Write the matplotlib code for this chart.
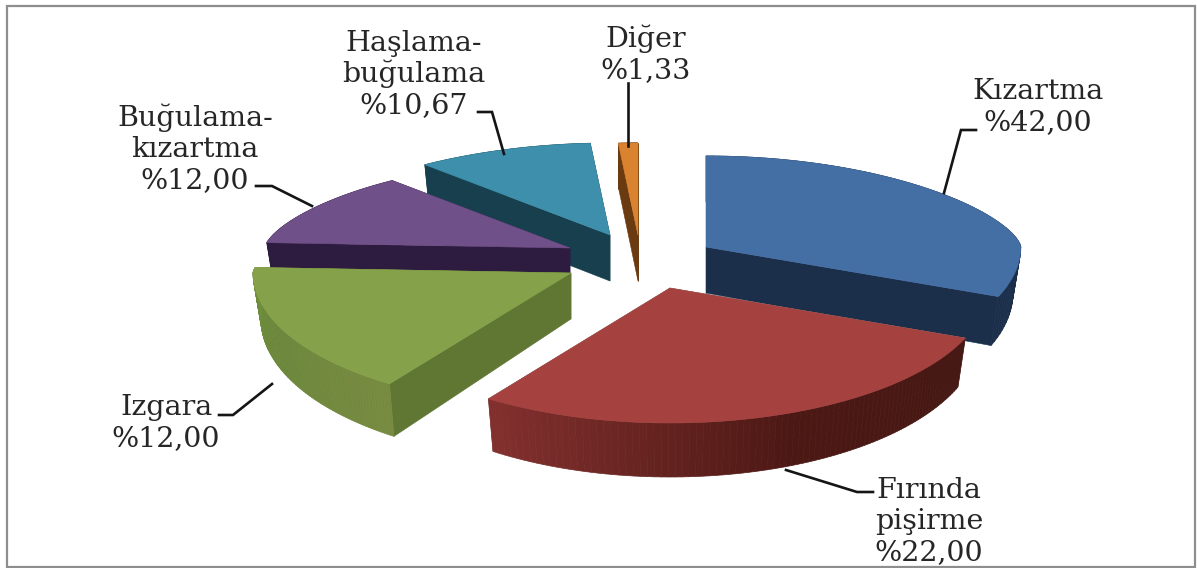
import numpy as np
import matplotlib
matplotlib.use("Agg")
import matplotlib.pyplot as plt
from matplotlib.collections import PolyCollection
from matplotlib.colors import LinearSegmentedColormap

# ---- data ----
categories = ["Kızartma", "Fırında\npişirme", "Izgara", "Buğulama-\nkızartma", "Haşlama-\nbuğulama", "Diğer"]
values = [42.00, 22.00, 12.00, 12.00, 10.67, 1.33]

# ---- slice styles, same order as the data ----
top_colors = ["#446FA5", "#A5423F", "#85A24A", "#705088", "#3D8FAB", "#D9822F"]
side_colors = ["#1B2F4B", "#8A8A8A", "#5F7733", "#2E1B40", "#173F4D", "#6A3A10"]
rim_colors = [["#1B2F4B", "#1B2F4B"],
              ["#451813", "#4C1814", "#82302E"],
              ["#778A40", "#6B873B", "#6E8E3D"],
              ["#2E1B40", "#2E1B40"],
              ["#173F4D", "#173F4D"],
              ["#6A3A10", "#6A3A10"]]
explode_x = [81, 45, -54, -55, -15, 13]
explode_y = [-15, 26, 11, -14, -27, -27]
rim_scale = [0.99, 1.0, 1.0, 0.96, 1.0, 1.0]
draw_order = [5, 4, 3, 0, 2, 1]  # back slices first

# ---- layout, in pixels ----
W, H = 1197, 568
CX, CY = 625, 262
RX, RY_BACK, RY_FRONT = 318, 92, 135
BACK_POWER = 1.3
DEPTH, DEPTH_FRONT = 46, 8
BASE_SHRINK = 0.975
VIEW_AXIS, VIEW_K = 50.0, 0.66  # slices far from the viewer get foreshortened

INK = "#262626"
LEADER = "#151515"
FONT = "DejaVu Serif"
FS = 20.5

label_x = [1038, 929, 166, 195, 414, 646]
label_base = [99, 498, 415, 126, 51, 47]
LINE_STEP = 31

leaders = [[(976, 130), (961, 130), (944, 193)],
           [(873, 492), (857, 492), (786, 470)],
           [(219, 415), (233, 415), (272, 384)],
           [(256, 186), (272, 186), (312, 206)],
           [(478, 112), (492, 112), (504, 154)],
           [(628, 83), (628, 146)]]


def view_angle(deg):
    # pie-plane angle -> angle seen through the perspective view, 0 stays at 0
    def warp(a):
        half = np.radians(a - VIEW_AXIS) / 2
        return VIEW_AXIS + 2 * np.degrees(np.arctan2(VIEW_K * np.sin(half), np.cos(half)))
    return warp(np.asarray(deg, dtype=float)) - warp(0.0)


def rim_points(deg):
    a = np.radians(view_angle(deg))
    s, c = np.sin(a), -np.cos(a)  # c > 0 is the near side
    dx = RX * s
    dy = np.where(c > 0, RY_FRONT * c, -RY_BACK * np.abs(c) ** BACK_POWER)
    return dx, dy, DEPTH + DEPTH_FRONT * np.clip(c, 0, None)


fig = plt.figure(figsize=(W / 100, H / 100), dpi=100)
ax = fig.add_axes([0, 0, 1, 1])
ax.set_xlim(0, W)
ax.set_ylim(H, 0)
ax.axis("off")

ax.add_patch(plt.Rectangle((6.5, 5.5), 1188.5, 561, fill=False, ec="#8E8E8E", lw=1.6))

shares = np.array(values) / sum(values) * 360
edges = np.concatenate([[0], np.cumsum(shares)])

z = 2
for i in draw_order:
    sweep = np.linspace(edges[i], edges[i + 1], 90)
    dx, dy, d = rim_points(sweep)
    dx = dx * rim_scale[i]
    dy = dy * rim_scale[i]
    ax0 = CX + explode_x[i]
    ay0 = CY + explode_y[i]
    x_top, y_top = ax0 + dx, ay0 + dy
    x_low, y_low = ax0 + dx * BASE_SHRINK, y_top + d

    # the two cut faces
    for x1, y1, x2, y2 in [(x_top[0], y_top[0], x_low[0], y_low[0]),
                           (x_top[-1], y_top[-1], x_low[-1], y_low[-1])]:
        ax.fill([ax0, x1, x2, ax0], [ay0, y1, y2, ay0 + DEPTH],
                fc=side_colors[i], ec=side_colors[i], lw=0.4, zorder=z)
    z += 1

    # outer wall, split up so the shading can run along the arc
    cmap = LinearSegmentedColormap.from_list("rim", rim_colors[i])
    quads = [[(x_top[j], y_top[j]), (x_top[j + 1], y_top[j + 1]),
              (x_low[j + 1], y_low[j + 1]), (x_low[j], y_low[j])] for j in range(len(sweep) - 1)]
    shade = cmap(np.linspace(0, 1, len(quads)))
    ax.add_collection(PolyCollection(quads, facecolors=shade, edgecolors=shade, linewidths=0.5, zorder=z))
    z += 1

    # top surface
    ax.fill(np.r_[ax0, x_top], np.r_[ay0, y_top], fc=top_colors[i], ec=top_colors[i], lw=0.4, zorder=z)
    z += 1

for pts in leaders:
    xs, ys = zip(*pts)
    ax.plot(xs, ys, color=LEADER, lw=1.9, solid_joinstyle="miter", zorder=z)

for name, val, x, y in zip(categories, values, label_x, label_base):
    lines = name.split("\n") + ["%" + f"{val:.2f}".replace(".", ",")]
    for k, line in enumerate(lines):
        ax.text(x, y + k * LINE_STEP, line, ha="center", va="baseline", fontsize=FS,
                family=FONT, color=INK, zorder=z + 1)

fig.savefig("out.png", dpi=100)
